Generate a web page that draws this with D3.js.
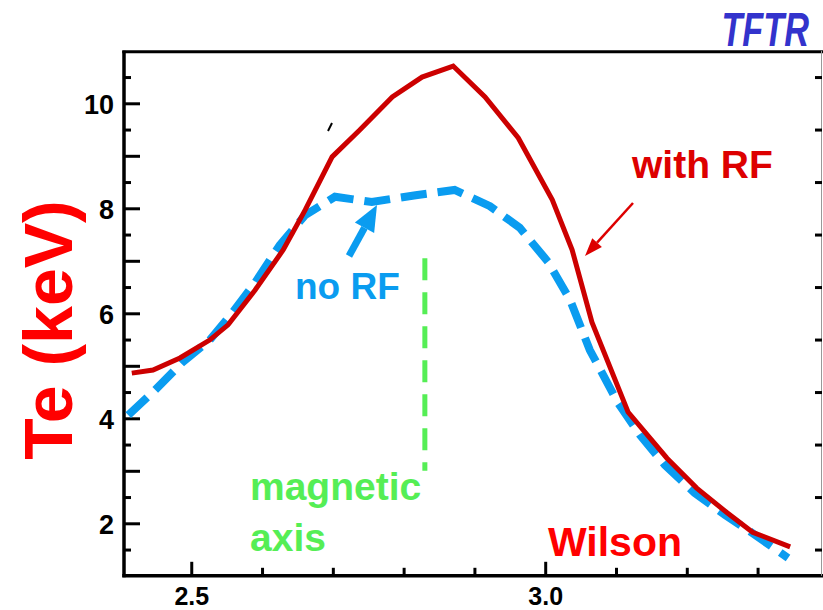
<!DOCTYPE html>
<html><head><meta charset="utf-8">
<script src="https://cdn.jsdelivr.net/npm/d3@7"></script>
<style>
html,body{margin:0;padding:0;background:#fff;}
svg{display:block;font-family:"Liberation Sans",Arial,Helvetica,sans-serif;font-weight:bold;}
</style></head>
<body>
<svg id="chart" width="823" height="610"></svg>
<script>
// ---- data (R in m, Te in keV) ----
const withRF_R  = [2.416,2.446,2.484,2.526,2.552,2.590,2.630,2.661,2.699,2.738,2.784,2.826,2.870,2.915,2.962,3.010,3.038,3.066,3.117,3.172,3.214,3.257,3.293,3.346];
const withRF_Te = [4.86,4.92,5.15,5.49,5.78,6.44,7.21,7.97,8.98,9.49,10.12,10.50,10.71,10.12,9.34,8.16,7.21,5.83,4.12,3.24,2.67,2.20,1.83,1.55];
const noRF_R  = [2.411,2.449,2.487,2.526,2.558,2.590,2.625,2.661,2.703,2.755,2.817,2.872,2.922,2.964,3.004,3.035,3.063,3.103,3.134,3.169,3.211,3.254,3.292,3.343];
const noRF_Te = [4.06,4.54,5.06,5.49,6.01,6.58,7.30,7.87,8.22,8.12,8.25,8.35,8.04,7.63,6.98,6.26,5.30,4.29,3.68,3.11,2.58,2.16,1.82,1.34];
const magAxisR = 2.830;
const magAxisTe = [3.0, 7.05];
const xMajorTicks = [2.5, 3.0];
const xMinorTicks = [2.6, 2.7, 2.8, 2.9, 3.1, 3.2, 3.3];
const xTickLabels = ["2.5", "3.0"];
const yMajorTicks = [2,3,4,5,6,7,8,9,10];
const yMinorTicks = [1.5,2.5,3.5,4.5,5.5,6.5,7.5,8.5,9.5,10.5];
const yLabelTicks = [2,4,6,8,10];

const svg = d3.select("#chart");
const x = d3.scaleLinear().domain([2.405, 3.391]).range([124, 822]);
const y = d3.scaleLinear().domain([1, 11]).range([575.8, 50.8]);

// ---- frame ----
const fr = svg.append("g");
fr.append("line").attr("x1",124).attr("x2",124).attr("y1",y(11)).attr("y2",y(1)+1.5).attr("stroke","#000").attr("stroke-width",3.5);
fr.append("line").attr("x1",122.3).attr("x2",823).attr("y1",y(1)).attr("y2",y(1)).attr("stroke","#000").attr("stroke-width",3.5);
fr.append("line").attr("x1",122.3).attr("x2",823).attr("y1",y(11)+1).attr("y2",y(11)+1).attr("stroke","#000").attr("stroke-width",3);
fr.append("line").attr("x1",821.5).attr("x2",821.5).attr("y1",y(11)).attr("y2",y(1)).attr("stroke","#999").attr("stroke-width",1);

function clean(g){ g.select(".domain").remove(); g.selectAll("line").attr("stroke","#000").attr("stroke-width",3); }

// left ticks (inward)
svg.append("g").attr("transform","translate(124,0)")
  .call(d3.axisRight(y).tickValues(yMajorTicks).tickSize(16).tickFormat(""))
  .call(clean);
svg.append("g").attr("transform","translate(124,0)")
  .call(d3.axisRight(y).tickValues(yMinorTicks).tickSize(7).tickFormat(""))
  .call(clean);
// right ticks (inward)
svg.append("g").attr("transform","translate(822,0)")
  .call(d3.axisLeft(y).tickValues(yMinorTicks).tickSize(7).tickFormat(""))
  .call(clean);
// y labels
const yl = svg.append("g").attr("transform","translate(124,0)")
  .call(d3.axisLeft(y).tickValues(yLabelTicks).tickSize(0).tickPadding(10).tickFormat(d3.format("d")));
yl.select(".domain").remove();
yl.selectAll("text").attr("font-size",27).attr("font-weight","bold").attr("fill","#000")
  .attr("font-family","'Liberation Sans',Arial,sans-serif").attr("dy","0.36em");

// bottom ticks (inward)
svg.append("g").attr("transform",`translate(0,${y(1)})`)
  .call(d3.axisTop(x).tickValues(xMajorTicks).tickSize(14).tickFormat(""))
  .call(clean);
svg.append("g").attr("transform",`translate(0,${y(1)})`)
  .call(d3.axisTop(x).tickValues(xMinorTicks).tickSize(8).tickFormat(""))
  .call(clean);
const xl = svg.append("g").attr("transform",`translate(0,${y(1)})`)
  .call(d3.axisBottom(x).tickValues(xMajorTicks).tickSize(0).tickPadding(11).tickFormat((d,i)=>xTickLabels[i]));
xl.select(".domain").remove();
xl.selectAll("text").attr("font-size",25).attr("font-weight","bold").attr("fill","#000")
  .attr("font-family","'Liberation Sans',Arial,sans-serif");

// ---- curves ----
const line = d3.line().x(d=>x(d[0])).y(d=>y(d[1]));
const redData = withRF_R.map((r,i)=>[r, withRF_Te[i]]);
const blueData = noRF_R.map((r,i)=>[r, noRF_Te[i]]);

svg.append("path").datum(blueData).attr("d",line).attr("fill","none")
  .attr("stroke","#0a9cf0").attr("stroke-width",8).attr("stroke-dasharray","26,11");
svg.append("path").datum(redData).attr("d",line).attr("fill","none")
  .attr("stroke","#cc0000").attr("stroke-width",5).attr("stroke-linejoin","miter");

// magnetic axis
svg.append("line").attr("x1",x(magAxisR)).attr("x2",x(magAxisR))
  .attr("y1",y(magAxisTe[1])).attr("y2",y(magAxisTe[0]))
  .attr("stroke","#55ee55").attr("stroke-width",5).attr("stroke-dasharray","22,12");

// stray mark
svg.append("line").attr("x1",328).attr("y1",131).attr("x2",332).attr("y2",123).attr("stroke","#000").attr("stroke-width",2);

// ---- arrows ----
function arrow(x1,y1,x2,y2,color,w,hl,hw){
  const a = Math.atan2(y2-y1,x2-x1);
  const bx = x2 - hl*Math.cos(a), by = y2 - hl*Math.sin(a);
  svg.append("line").attr("x1",x1).attr("y1",y1).attr("x2",bx).attr("y2",by)
    .attr("stroke",color).attr("stroke-width",w);
  const px = -Math.sin(a)*hw/2, py = Math.cos(a)*hw/2;
  svg.append("path").attr("d",`M${x2},${y2}L${bx+px},${by+py}L${bx-px},${by-py}Z`).attr("fill",color);
}
arrow(633,203,585,256,"#dd0000",2.5,18,13);
arrow(349,256,377,205,"#0a9cf0",7,26,22);

// ---- texts ----
function txt(s,xx,yy,size,color,extra){
  const t = svg.append("text").attr("x",xx).attr("y",yy).attr("font-size",size)
    .attr("fill",color).attr("font-weight","bold").text(s);
  if(extra) extra(t);
  return t;
}
txt("TFTR",0,0,49,"#3333cc",t=>t.attr("font-style","italic").attr("text-anchor","end")
   .attr("transform","translate(809,46) scale(0.7,1)"));
txt("with RF",632,178,39,"#dd0000");
txt("no RF",295,299,37,"#0a9cf0");
txt("magnetic",250,500,39,"#55ee55");
txt("axis",250,551,39,"#55ee55");
txt("Wilson",548,556,41,"#ff0000");
txt("Te (keV)",0,0,68,"#ff0000",t=>t.attr("text-anchor","middle")
   .attr("transform","translate(72,330) rotate(-90)"));
</script>
</body></html>
